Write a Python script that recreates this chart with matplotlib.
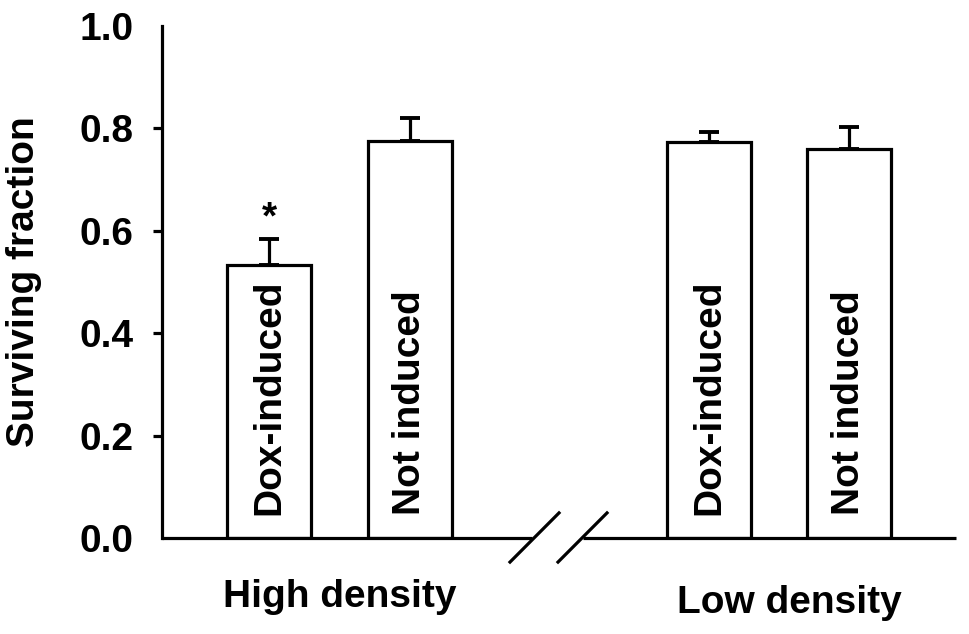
import numpy as np
import matplotlib as ml
ml.use('Agg')
import matplotlib.pyplot as plt
import matplotlib.transforms as mtransforms

# data
groups = ['High density', 'Low density']
conditions = ['Dox-induced', 'Not induced', 'Dox-induced', 'Not induced']
surviving = [0.533, 0.775, 0.773, 0.759]
err_up = [0.051, 0.045, 0.020, 0.043]
signif = ['*', '', '', '']
yticks = [0.0, 0.2, 0.4, 0.6, 0.8, 1.0]

# layout
pos = np.array([1.0, 2.0, 4.12, 5.11])
width = 0.596
xmin, xmax = 0.241, 5.872
lw = 2.3

plt.rcParams['font.family'] = ['Liberation Sans', 'DejaVu Sans']
plt.rcParams['font.weight'] = 'bold'

fig = plt.figure(figsize=(9.69, 6.34), dpi=100)
ax = fig.add_axes([162/969., (634-538)/634., (956-162)/969., 512/634.])

ax.bar(pos, surviving, width=width, color='white', edgecolor='black', linewidth=lw, zorder=2)
ax.errorbar(pos, surviving, yerr=[np.zeros(len(err_up)), err_up], fmt='none',
            ecolor='black', elinewidth=lw, capsize=7, capthick=lw + 0.5, zorder=1)

for x, v, e, s, c in zip(pos, surviving, err_up, signif, conditions):
    ax.text(x, 0.045, c, rotation=90, ha='center', va='bottom', fontsize=28, fontweight='bold')
    if s:
        ax.text(x, v + e + 0.005, s, ha='center', va='bottom', fontsize=28, fontweight='bold')

ax.set_xlim(xmin, xmax)
ax.set_ylim(0, 1.0)
ax.set_yticks(yticks)
ax.set_yticklabels(['%.1f' % t for t in yticks], fontsize=28, fontweight='bold')
ax.tick_params(axis='y', direction='out', length=6.5, width=lw, pad=14)
ticks = ax.yaxis.get_major_ticks()
ticks[0].tick1line.set_visible(False)
ticks[-1].tick1line.set_visible(False)
ax.set_xticks([])

for sp in ['top', 'right', 'bottom']:
    ax.spines[sp].set_visible(False)
ax.spines['left'].set_linewidth(lw)

# broken x axis
px = lambda p: xmin + (p - 162) / 141.
trans = mtransforms.blended_transform_factory(ax.transData, ax.transAxes)
ax.plot([xmin, px(532)], [0, 0], color='black', lw=lw, transform=trans, clip_on=False, solid_capstyle='butt')
ax.plot([px(583), xmax], [0, 0], color='black', lw=lw, transform=trans, clip_on=False, solid_capstyle='butt')
for x0 in [510, 558]:
    ax.plot([px(x0), px(x0 + 49)], [-0.047, 0.049], color='black', lw=lw, transform=trans, clip_on=False)

ax.set_ylabel('Surviving fraction', fontsize=28, fontweight='bold')
ax.yaxis.set_label_coords(-0.151, 0.5)

ax.text(1.5, -0.135, groups[0], ha='center', va='baseline', fontsize=28, fontweight='bold', transform=trans)
ax.text(4.69, -0.146, groups[1], ha='center', va='baseline', fontsize=28, fontweight='bold', transform=trans)

fig.savefig('out.png', dpi=100)
